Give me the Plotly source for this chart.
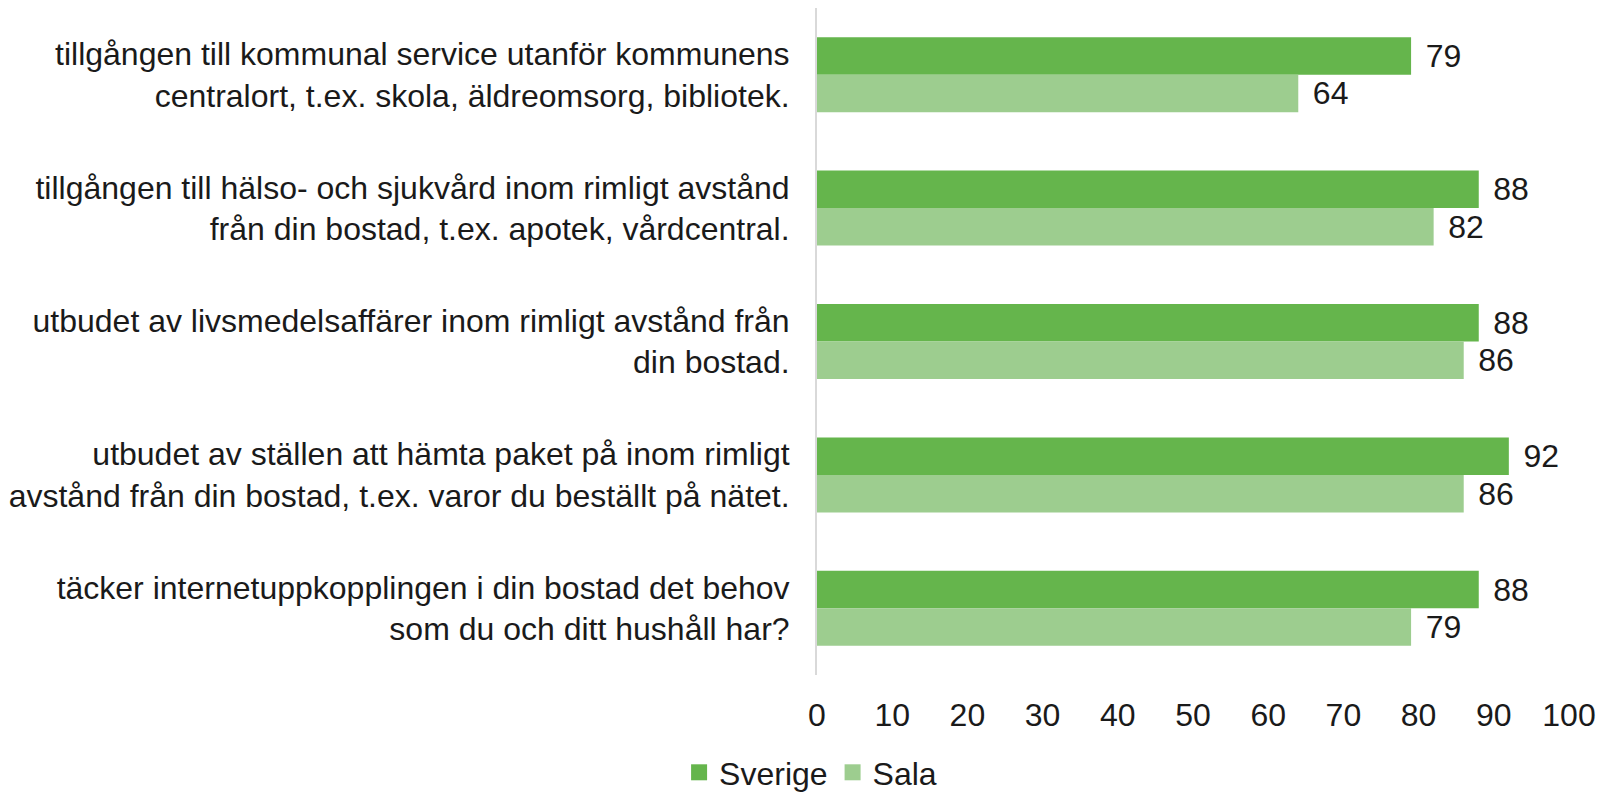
import plotly.graph_objects as go

categories = [
    "tillgången till kommunal service utanför kommunens<br>centralort, t.ex. skola, äldreomsorg, bibliotek.",
    "tillgången till hälso- och sjukvård inom rimligt avstånd<br>från din bostad, t.ex. apotek, vårdcentral.",
    "utbudet av livsmedelsaffärer inom rimligt avstånd från<br>din bostad.",
    "utbudet av ställen att hämta paket på inom rimligt<br>avstånd från din bostad, t.ex. varor du beställt på nätet.",
    "täcker internetuppkopplingen i din bostad det behov<br>som du och ditt hushåll har?",
]
sverige = [79, 88, 88, 92, 88]
sala = [64, 82, 86, 86, 79]
x_ticks = [0, 10, 20, 30, 40, 50, 60, 70, 80, 90, 100]

FONT = "Liberation Sans, Arial, sans-serif"
TXT = "#1a1a1a"
C_SVERIGE = "#65b54c"
C_SALA = "#9dcd8f"

fig = go.Figure()
for name, vals, col in [("Sverige", sverige, C_SVERIGE), ("Sala", sala, C_SALA)]:
    fig.add_trace(go.Bar(
        name=name, y=categories, x=vals, orientation="h",
        legendgroup=name, showlegend=False,
        marker=dict(color=col, line=dict(width=0)),
        text=vals, texttemplate="\u00a0\u200a%{x}", textposition="outside",
        constraintext="none", cliponaxis=False,
        outsidetextfont=dict(family=FONT, size=32, color=TXT),
    ))
# legend entries with larger square swatches
for name, col in [("Sverige", C_SVERIGE), ("Sala", C_SALA)]:
    fig.add_trace(go.Scatter(
        name=name, x=[None], y=[None], mode="markers", legendgroup=name,
        marker=dict(symbol="square", size=19, color=col, line=dict(width=0)),
        hoverinfo="skip",
    ))

fig.update_layout(
    width=1601, height=793,
    margin=dict(l=817, r=32, t=8, b=118, autoexpand=False),
    paper_bgcolor="white", plot_bgcolor="white",
    barmode="group", bargap=0.438, bargroupgap=0,
    font=dict(family=FONT, size=32, color=TXT),
    showlegend=True,
    legend=dict(orientation="h", xref="container", x=0.5063, xanchor="center",
                yref="paper", y=-0.1874, yanchor="bottom",
                font=dict(family=FONT, size=32, color=TXT),
                itemwidth=30, tracegroupgap=0),
    xaxis=dict(range=[0, 100], tickvals=x_ticks, showgrid=False, zeroline=False,
               showline=False, ticks="", ticklabelstandoff=18, automargin=False,
               tickfont=dict(family=FONT, size=32, color=TXT)),
    yaxis=dict(autorange="reversed", showgrid=False, zeroline=False,
               showline=True, linecolor="#d9d9d9", linewidth=2, ticks="",
               ticklabelstandoff=19, automargin=False,
               tickfont=dict(family=FONT, size=32, color=TXT)),
)

fig.write_html("out.html", config={"displayModeBar": False},
               post_script="document.body.style.margin='0';")
